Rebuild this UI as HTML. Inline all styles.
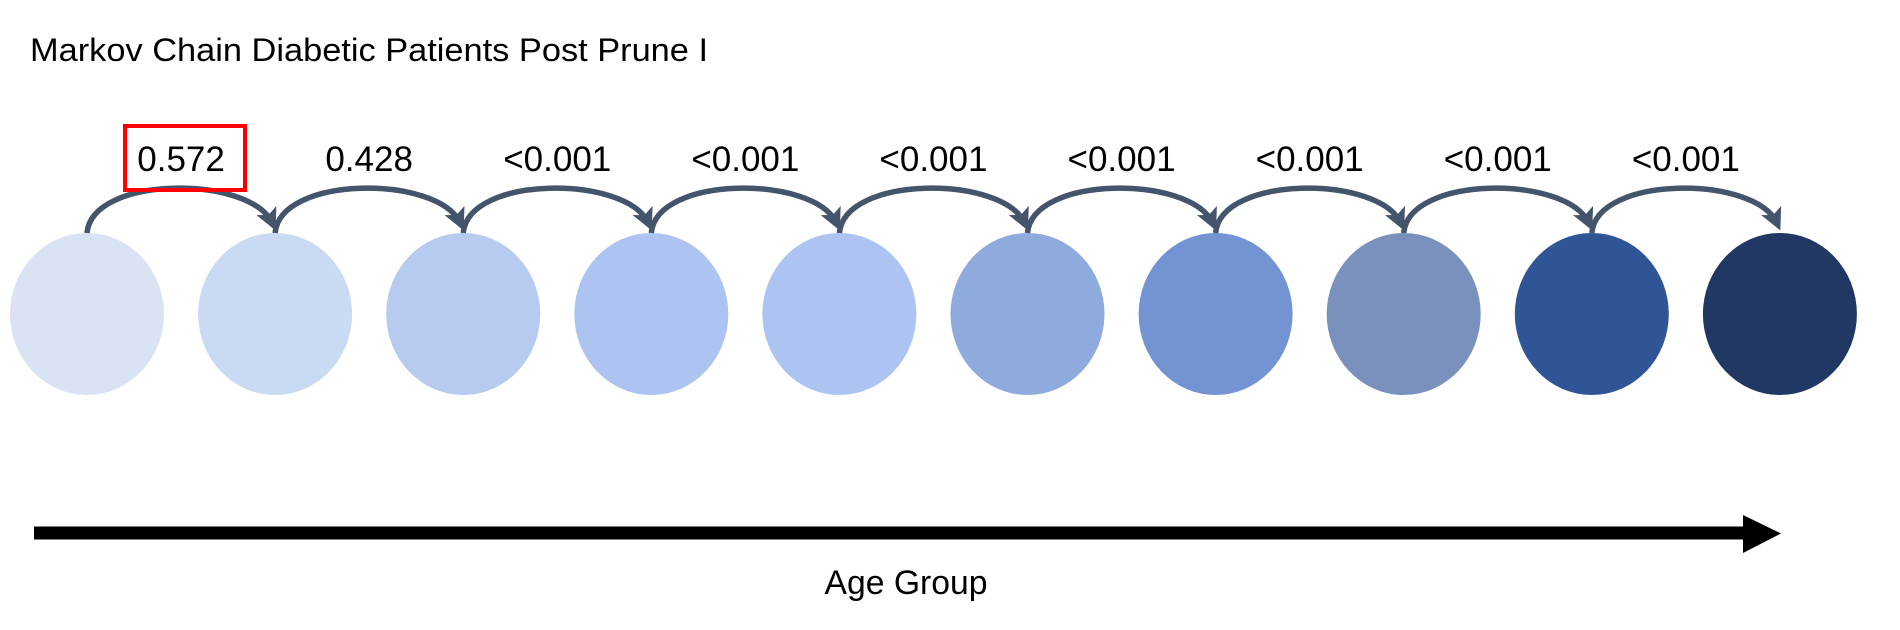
<!DOCTYPE html>
<html><head><meta charset="utf-8"><style>
html,body{margin:0;padding:0;background:#fff;}
svg{display:block;font-family:"Liberation Sans",sans-serif;}
</style></head><body>
<svg id="chart" width="1900" height="630" viewBox="0 0 1900 630">
<defs>
<marker id="ah" markerWidth="4" markerHeight="4" refX="2.5" refY="2" orient="auto" markerUnits="strokeWidth">
<path d="M0,0 L4,2 L0,4 L0.9,2 Z" fill="#44546a"/>
</marker>
</defs>
<text x="30" y="61" font-size="32" textLength="678" lengthAdjust="spacingAndGlyphs" fill="#000">Markov Chain Diabetic Patients Post Prune I</text>
<g id="states"></g>
<g id="transitions"></g>
<rect x="125" y="126" width="120" height="64" fill="none" stroke="#ff0000" stroke-width="4"/>
<line x1="34" y1="533" x2="1745" y2="533" stroke="#000" stroke-width="13"/>
<polygon points="1743,515 1781,533.5 1743,553" fill="#000"/>
<text x="906" y="594" font-size="34" text-anchor="middle" textLength="163" lengthAdjust="spacingAndGlyphs">Age Group</text>
</svg>
<script>
const stateColors = ["#dae3f3","#c9daf2","#b7cbf0","#adc3f2","#adc3f2","#8faadc","#7393d3","#7a91be","#2f5597","#213864"];
const transitionLabels = ["0.572","0.428","<0.001","<0.001","<0.001","<0.001","<0.001","<0.001","<0.001"];
const NS = "http://www.w3.org/2000/svg";
const cx0 = 87, step = 188.1, cy = 314, rx = 77, ry = 81;
function xPos(i){ return cx0 + i*step; }
const gS = document.getElementById('states');
stateColors.forEach((c,i)=>{
  const e = document.createElementNS(NS,'ellipse');
  e.setAttribute('cx', xPos(i)); e.setAttribute('cy', cy);
  e.setAttribute('rx', rx); e.setAttribute('ry', ry);
  e.setAttribute('fill', c);
  
  
  gS.appendChild(e);
});
const gT = document.getElementById('transitions');
transitionLabels.forEach((lab,i)=>{
  const x0 = xPos(i), x1 = xPos(i+1), top = cy - ry;
  const p = document.createElementNS(NS,'path');
  p.setAttribute('d', `M${x0},${top} C${x0+5},${top-58} ${x1-25},${top-58} ${x1-3},${top-10}`);
  p.setAttribute('fill','none'); p.setAttribute('stroke','#44546a'); p.setAttribute('stroke-width','5.5');
  p.setAttribute('marker-end','url(#ah)');
  
  
  gT.appendChild(p);
  const t = document.createElementNS(NS,'text');
  t.setAttribute('x', (x0+x1)/2); t.setAttribute('y', 171);
  t.setAttribute('font-size','35'); t.setAttribute('text-anchor','middle');
  t.textContent = lab;
  
  
  gT.appendChild(t);
});
</script>
</body></html>
